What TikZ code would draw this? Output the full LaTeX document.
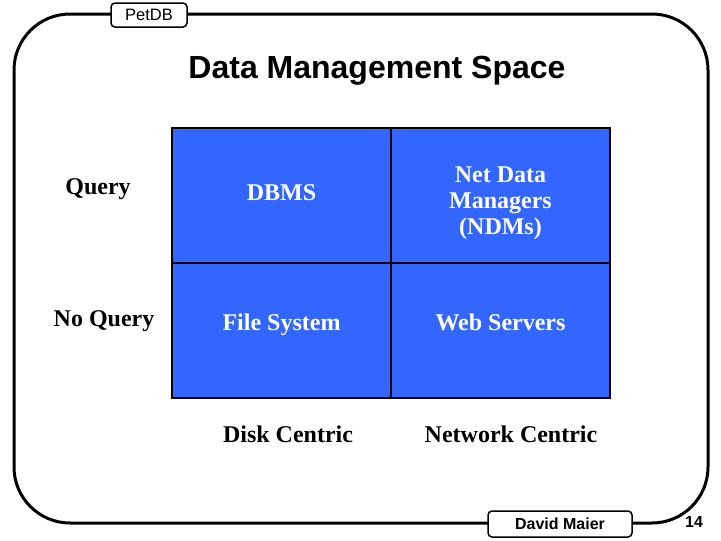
\documentclass[tikz,border=0pt]{standalone}
\usepackage{fontspec}
\setmainfont{Liberation Serif}
\setsansfont{Liberation Sans}
\usetikzlibrary{positioning}
\definecolor{cellblue}{HTML}{3366FF}
\newcommand{\celltext}[2]{\raisebox{#1}[\height][\depth]{\begin{tabular}{@{}c@{}}#2\end{tabular}}}

\begin{document}
\begin{tikzpicture}[x=1pt, y=-1pt,
    cell/.style={rectangle, draw=black, fill=cellblue, line width=1.5pt, outer sep=0pt, minimum width=219pt, minimum height=135pt, inner sep=0pt, text=white, font=\fontsize{24}{26}\selectfont\bfseries},
    lbl/.style={font=\fontsize{24}{26}\selectfont\bfseries, align=center},
    tag/.style={rectangle, draw=black, fill=white, rounded corners=4pt, line width=1.5pt, inner sep=0pt, font=\sffamily\fontsize{16.5}{18}\selectfont},
  ]
    \useasboundingbox (0,0) rectangle (721,541);
    % slide frame
    \draw[line width=3pt, rounded corners=56pt] (14,14) rectangle (708,523);
    \node[tag, minimum width=76pt, minimum height=24pt] (tab) at (149,15) {PetDB};
    \node[font=\sffamily\bfseries\fontsize{32}{36}\selectfont] (title) at (377,71) {Data Management Space};

    \node[cell] (dbms) at (281.5,195.5) {\celltext{0pt}{DBMS}};
    \node[cell, right=0pt of dbms] (ndm) {\celltext{-8pt}{Net Data\\Managers\\(NDMs)}};
    \node[cell, below=0pt of dbms] (fs) {\celltext{5pt}{File System}};
    \node[cell, right=0pt of fs] (web) {\celltext{5pt}{Web Servers}};

    \node[lbl] (query) at (98,189) {Query};
    \node[lbl] (noquery) at (104,321) {No Query};
    \node[lbl] (disk) at (288,434) {Disk Centric};
    \node[lbl] (net) at (511,434) {Network Centric};

    % footer
    \node[tag, font=\sffamily\bfseries\fontsize{16}{18}\selectfont, minimum width=144pt, minimum height=26pt] (author) at (560,524) {David Maier};
    \node[font=\sffamily\bfseries\fontsize{16}{18}\selectfont] (page) at (694,522) {14};
  \end{tikzpicture}
\end{document}
